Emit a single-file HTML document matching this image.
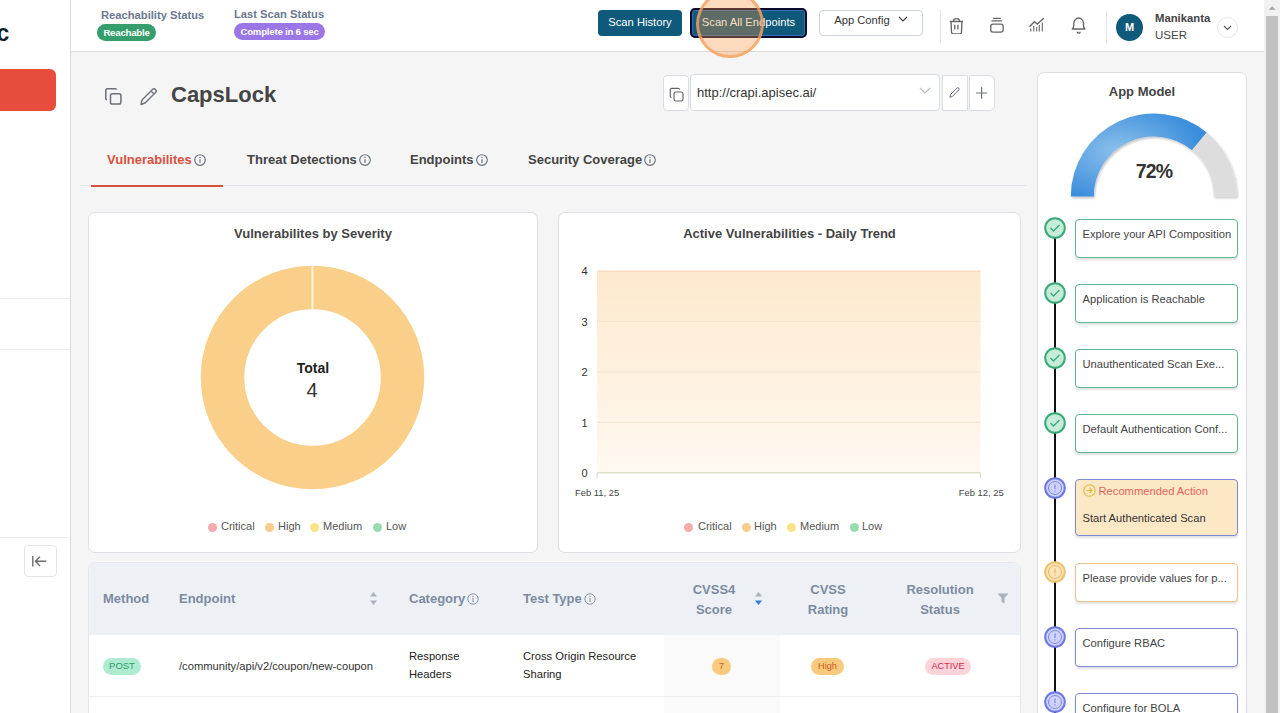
<!DOCTYPE html>
<html><head><meta charset="utf-8">
<style>
*{box-sizing:border-box;margin:0;padding:0}
html,body{width:1280px;height:713px;overflow:hidden;background:#f5f5f5;font-family:"Liberation Sans",Arial,sans-serif;color:#333}
.abs{position:absolute}
#side{position:absolute;left:0;top:0;width:71px;height:713px;background:#fff;border-right:1px solid #d9dadd}
#hdr{position:absolute;left:71px;top:0;width:1193px;height:52px;background:#fff;border-bottom:1px solid #d9dadd}
#sb{position:absolute;left:1264px;top:0;width:16px;height:713px;background:#f1f1f1}
.lbl{font-size:11.2px;font-weight:bold;color:#6b7891;white-space:nowrap}
.badge{position:absolute;border-radius:9px;color:#fff;font-size:9.6px;font-weight:bold;text-align:center;letter-spacing:-0.2px}
.btn{position:absolute;border-radius:4px;font-size:11.2px;text-align:center;white-space:nowrap}
.card{position:absolute;background:#fff;border:1px solid #dcdfe3;border-radius:7px}
.ctitle{position:absolute;left:0;right:0;text-align:center;font-size:13px;font-weight:bold;color:#444}
.tab{position:absolute;font-size:13px;font-weight:bold;color:#444;white-space:nowrap}
.info{display:inline-block;vertical-align:-1.5px;margin-left:2px}
.leg{position:absolute;font-size:11px;color:#555;white-space:nowrap}
.dot{position:absolute;width:9px;height:9px;border-radius:50%}
.step{position:absolute;left:1075px;width:163px;height:39px;background:#fff;border:1.5px solid #5bb892;border-radius:4px;box-shadow:0 2px 2px rgba(0,0,0,0.12);font-size:11.2px;color:#444;padding:7.5px 0 0 6.5px;white-space:nowrap;overflow:hidden}
.circ{position:absolute;left:1044px;width:22px;height:22px;border-radius:50%}
.th{position:absolute;font-size:13px;font-weight:bold;color:#7d8ba0;white-space:nowrap}
.td{position:absolute;font-size:11.2px;color:#222;white-space:nowrap}
</style></head><body>

<!-- sidebar -->
<div id="side">
  <div class="abs" style="left:-3.5px;top:20.2px;font-size:23px;font-weight:bold;color:#0f1e2e">c</div>
  <div class="abs" style="left:-10px;top:69px;width:66px;height:42px;background:#e84c3d;border-radius:6px"></div>
  <div class="abs" style="left:0;top:298px;width:70px;height:1px;background:#eceef0"></div>
  <div class="abs" style="left:0;top:349px;width:70px;height:1px;background:#eceef0"></div>
  <div class="abs" style="left:0;top:537px;width:70px;height:1px;background:#eceef0"></div>
  <div class="abs" style="left:24px;top:545px;width:33px;height:32px;border:1px solid #e3e5e8;border-radius:4px;background:#fff">
    <svg width="31" height="30" viewBox="0 0 31 30" style="position:absolute;left:0;top:0"><path d="M7.8 10v10.5M21.3 15.3H10.6M15 10.7l-4.6 4.6 4.6 4.6" stroke="#6e6e6e" stroke-width="1.4" fill="none"/></svg>
  </div>
</div>

<!-- header -->
<div id="hdr"></div>
<div class="abs lbl" style="left:101px;top:9px">Reachability Status</div>
<div class="badge" style="left:97px;top:24px;width:59px;height:17px;line-height:17px;background:#359e6b">Reachable</div>
<div class="abs lbl" style="left:234px;top:8px">Last Scan Status</div>
<div class="badge" style="left:234px;top:23px;width:91px;height:17px;line-height:17px;background:#9a76e6">Complete in 6 sec</div>

<div class="btn" style="left:598px;top:10px;width:84px;height:26px;line-height:24px;background:#0f5a7a;color:#fff">Scan History</div>
<div class="btn" style="left:690px;top:8px;width:117px;height:30px;line-height:24px;background:#0f5a7a;color:#fff;border:2px solid #0b0b2e;border-radius:5px;box-shadow:inset 0 0 0 1px #3a6cb8">Scan All Endpoints</div>
<div class="btn" style="left:819px;top:10px;width:104px;height:26px;line-height:19px;background:#fff;color:#333;border:1px solid #cdd2d8">App Config <svg width="10" height="7" viewBox="0 0 10 7" style="margin-left:5px;vertical-align:1px"><path d="M1 1l4 4 4-4" stroke="#444" stroke-width="1.2" fill="none"/></svg></div>
<!-- click indicator -->
<div class="abs" style="left:696px;top:-10px;width:68px;height:68px;border-radius:50%;background:rgba(246,146,64,0.34);border:3px solid rgba(245,162,95,0.78)"></div>

<div class="abs" style="left:940px;top:10px;width:1px;height:33px;background:#e2e4e8"></div>
<div class="abs" style="left:1106px;top:10px;width:1px;height:33px;background:#e2e4e8"></div>
<!-- trash -->
<svg class="abs" style="left:948px;top:16px" width="16" height="18" viewBox="0 0 16 18"><path d="M5.4 5.3a3.1 2.7 0 0 1 6.2 0M1.7 5.5h13.3M3.1 5.5l.4 10.6a1.7 1.7 0 0 0 1.7 1.7h6.6a1.7 1.7 0 0 0 1.7-1.7l.4-10.6M6.8 8.8v4.6M9.9 8.8v4.6" stroke="#666" stroke-width="1.35" fill="none"/></svg>
<!-- stack -->
<svg class="abs" style="left:988px;top:16px" width="17" height="18" viewBox="0 0 17 18"><path d="M5.1 2.3h7.7M3.5 4.9h10.4" stroke="#666" stroke-width="1.35" fill="none"/><rect x="2.75" y="8.05" width="12.4" height="8" rx="2.3" stroke="#666" stroke-width="1.35" fill="none"/></svg>
<!-- chart -->
<svg class="abs" style="left:1028px;top:16px" width="17" height="17" viewBox="0 0 17 17"><path d="M1.4 10.7L6.4 5.7L9.3 8.1L15.7 2.2" stroke="#666" stroke-width="1.35" fill="none"/><path d="M2.8 15.4v-2.9M5.8 15.4v-5.3M8.7 15.4v-4.4M11.3 15.4v-6.5M14.3 15.4v-8.8" stroke="#666" stroke-width="1.1" fill="none"/></svg>
<!-- bell -->
<svg class="abs" style="left:1070px;top:15px" width="16" height="19" viewBox="0 0 16 19"><path d="M2.3 14Q3.8 13 3.8 10V8.4A4.85 5.4 0 0 1 13.5 8.4V10Q13.5 13 15 14ZM7.2 16.7a1.5 1.3 0 0 0 3 0" stroke="#666" stroke-width="1.35" fill="none" stroke-linejoin="round"/></svg>

<div class="abs" style="left:1116px;top:14px;width:27px;height:27px;border-radius:50%;background:#0f5a7a;color:#fff;font-size:11px;font-weight:bold;text-align:center;line-height:27px">M</div>
<div class="abs" style="left:1155px;top:12px;font-size:11.3px;font-weight:bold;color:#444">Manikanta</div>
<div class="abs" style="left:1155px;top:29px;font-size:11.5px;color:#444">USER</div>
<div class="abs" style="left:1217px;top:17px;width:21px;height:21px;border-radius:50%;border:1px solid #e2e4e8;background:#fff">
  <svg width="20" height="20" viewBox="0 0 20 20" style="position:absolute;left:0;top:0"><path d="M6 8l3.5 3.5 3.5-3.5" stroke="#555" stroke-width="1.1" fill="none"/></svg>
</div>

<!-- scrollbar -->
<div id="sb">
  <svg width="16" height="15" viewBox="0 0 16 15" style="position:absolute;left:0;top:0"><path d="M4.8 9.8l3.4-3.6 3.4 3.6z" fill="#a3a3a3"/></svg>
  <div class="abs" style="left:2px;top:16px;width:12px;height:697px;background:#c1c1c1"></div>
</div>

<!-- title -->
<svg class="abs" style="left:104px;top:87px" width="19" height="19" viewBox="0 0 19 19"><rect x="6.5" y="6.7" width="10.4" height="10.3" rx="1.8" stroke="#6b7079" stroke-width="1.5" fill="none"/><path d="M12.6 2.7a1.2 1.2 0 0 0-1.2-1h-8a1.6 1.6 0 0 0-1.6 1.6v8.2a1.2 1.2 0 0 0 1.2 1.2" stroke="#6b7079" stroke-width="1.5" fill="none"/></svg>
<svg class="abs" style="left:139px;top:87px" width="19" height="19" viewBox="0 0 19 19"><path d="M2 17.5l1-4.5L13.5 2.5a2 2 0 0 1 3 3L6 16z M12 4l3 3" stroke="#6b7079" stroke-width="1.4" fill="none" stroke-linejoin="round"/></svg>
<div class="abs" style="left:171px;top:81.5px;font-size:22px;font-weight:bold;color:#444">CapsLock</div>

<!-- URL selector -->
<div class="abs" style="left:663px;top:75px;width:26px;height:36px;background:#fff;border:1px solid #d9dde2;border-radius:4px"></div>
<svg class="abs" style="left:668.5px;top:86.5px" width="16" height="16" viewBox="0 0 16 16"><rect x="5" y="5" width="9" height="9" rx="1.8" stroke="#666" stroke-width="1.2" fill="none"/><path d="M10.5 2.5a1.2 1.2 0 0 0-1.2-1.2H3a1.7 1.7 0 0 0-1.7 1.7v6.3a1.2 1.2 0 0 0 1.2 1.2" stroke="#666" stroke-width="1.2" fill="none"/></svg>
<div class="abs" style="left:690px;top:74px;width:250px;height:37px;background:#fff;border:1px solid #d9dde2;border-radius:4px;font-size:13px;color:#333;padding:10px 0 0 6px">http://crapi.apisec.ai/</div>
<svg class="abs" style="left:919px;top:87px" width="12" height="8" viewBox="0 0 12 8"><path d="M1 1l5 5 5-5" stroke="#bbb" stroke-width="1.2" fill="none"/></svg>
<div class="abs" style="left:942px;top:75px;width:26px;height:36px;background:#fff;border:1px solid #d9dde2;border-radius:1px"></div>
<svg class="abs" style="left:948px;top:86px" width="13" height="13" viewBox="0 0 13 13"><path d="M1.8 11.2l.6-2.6L8.9 2.1a1.3 1.3 0 0 1 1.9 1.9L4.3 10.5z" stroke="#6b7280" stroke-width="1" fill="none" stroke-linejoin="round"/></svg>
<div class="abs" style="left:969px;top:75px;width:26px;height:36px;background:#fff;border:1px solid #d9dde2;border-radius:1px 6px 6px 1px"></div>
<svg class="abs" style="left:975px;top:86px" width="14" height="14" viewBox="0 0 14 14"><path d="M6.6 1.2v11.6M1 7h11.2" stroke="#6b7280" stroke-width="1.2" fill="none"/></svg>

<!-- tabs -->
<div class="tab" style="left:107px;top:152px;color:#d9503f">Vulnerabilites<svg class="info" width="12" height="12" viewBox="0 0 12 12"><circle cx="6" cy="6" r="5.3" stroke="#6b7280" stroke-width="1.15" fill="none"/><path d="M6 5.2v3.8" stroke="#6b7280" stroke-width="1.2"/><circle cx="6" cy="3.5" r="0.75" fill="#6b7280"/></svg></div>
<div class="tab" style="left:247px;top:152px">Threat Detections<svg class="info" width="12" height="12" viewBox="0 0 12 12"><circle cx="6" cy="6" r="5.3" stroke="#6b7280" stroke-width="1.15" fill="none"/><path d="M6 5.2v3.8" stroke="#6b7280" stroke-width="1.2"/><circle cx="6" cy="3.5" r="0.75" fill="#6b7280"/></svg></div>
<div class="tab" style="left:410px;top:152px">Endpoints<svg class="info" width="12" height="12" viewBox="0 0 12 12"><circle cx="6" cy="6" r="5.3" stroke="#6b7280" stroke-width="1.15" fill="none"/><path d="M6 5.2v3.8" stroke="#6b7280" stroke-width="1.2"/><circle cx="6" cy="3.5" r="0.75" fill="#6b7280"/></svg></div>
<div class="tab" style="left:528px;top:152px">Security Coverage<svg class="info" width="12" height="12" viewBox="0 0 12 12"><circle cx="6" cy="6" r="5.3" stroke="#6b7280" stroke-width="1.15" fill="none"/><path d="M6 5.2v3.8" stroke="#6b7280" stroke-width="1.2"/><circle cx="6" cy="3.5" r="0.75" fill="#6b7280"/></svg></div>
<div class="abs" style="left:80px;top:185px;width:947px;height:1px;background:#e1e5ea"></div>
<div class="abs" style="left:91px;top:184.5px;width:132px;height:2.5px;background:#d9503f"></div>

<!-- left chart card -->
<div class="card" style="left:88px;top:212px;width:450px;height:341px">
  <div class="ctitle" style="top:13.3px">Vulnerabilites by Severity</div>
</div>
<svg class="abs" style="left:200px;top:265px" width="225" height="225" viewBox="0 0 225 225">
  <circle cx="112.5" cy="112.5" r="90" stroke="#f9cf8a" stroke-width="43.5" fill="none"/>
  <path d="M112.5 0v44" stroke="#fdf4d8" stroke-width="2"/>
</svg>
<div class="abs" style="left:263px;top:359.5px;width:100px;text-align:center;font-size:14px;font-weight:bold;color:#222">Total</div>
<div class="abs" style="left:262px;top:379px;width:100px;text-align:center;font-size:20px;color:#333">4</div>
<div class="dot" style="left:208px;top:523px;background:#f5a9ab"></div><div class="leg" style="left:221px;top:520px">Critical</div>
<div class="dot" style="left:265px;top:523px;background:#f8cc8a"></div><div class="leg" style="left:278px;top:520px">High</div>
<div class="dot" style="left:310px;top:523px;background:#f7e487"></div><div class="leg" style="left:323px;top:520px">Medium</div>
<div class="dot" style="left:373px;top:523px;background:#97dcb0"></div><div class="leg" style="left:386px;top:520px">Low</div>

<!-- right chart card -->
<div class="card" style="left:558px;top:212px;width:463px;height:341px">
  <div class="ctitle" style="top:13.3px">Active Vulnerabilities - Daily Trend</div>
</div>
<svg class="abs" style="left:560px;top:260px" width="450" height="245" viewBox="0 0 450 245">
  <defs><linearGradient id="ag" x1="0" y1="0" x2="0" y2="1"><stop offset="0" stop-color="#fde9cd"/><stop offset="1" stop-color="#fff9f1"/></linearGradient></defs>
  <rect x="37" y="11" width="383.5" height="201.8" fill="url(#ag)"/>
  <path d="M37 61.4h383.5M37 111.9h383.5M37 162.3h383.5" stroke="#f3e3cf" stroke-width="1"/>
  <path d="M37 11.3h383.5" stroke="#f6dcc0" stroke-width="1.5"/>
  <path d="M37 212.8h383.5" stroke="#dfe2c9" stroke-width="1.6"/>
  <path d="M37 213v5.5M420.3 213v5.5" stroke="#d8d8d8" stroke-width="1"/>
  <g font-family="Liberation Sans, Arial, sans-serif" font-size="11" fill="#333" text-anchor="end">
    <text x="27.6" y="15.2">4</text><text x="27.6" y="65.6">3</text><text x="27.6" y="116.1">2</text><text x="27.6" y="166.5">1</text><text x="27.6" y="216.9">0</text>
  </g>
  <g font-family="Liberation Sans, Arial, sans-serif" font-size="9.4" fill="#444">
    <text x="15" y="235.5">Feb 11, 25</text><text x="398.8" y="235.5">Feb 12, 25</text>
  </g>
</svg>
<div class="dot" style="left:684px;top:523px;background:#f5a9ab"></div><div class="leg" style="left:698px;top:520px">Critical</div>
<div class="dot" style="left:742px;top:523px;background:#f8cc8a"></div><div class="leg" style="left:754px;top:520px">High</div>
<div class="dot" style="left:787px;top:523px;background:#f7e487"></div><div class="leg" style="left:800px;top:520px">Medium</div>
<div class="dot" style="left:850px;top:523px;background:#97dcb0"></div><div class="leg" style="left:862px;top:520px">Low</div>

<!-- table -->
<div class="abs" style="left:88px;top:562px;width:933px;height:160px;background:#fff;border:1px solid #e4e7eb;border-radius:8px 8px 0 0;overflow:hidden">
  <div class="abs" style="left:0;top:0;width:933px;height:72px;background:#edf1f6"></div>
  <div class="abs" style="left:575px;top:72px;width:116px;height:100px;background:#fafafa"></div>
  <div class="abs" style="left:0;top:133px;width:933px;height:1px;background:#eceef1"></div>
</div>
<div class="th" style="left:103px;top:591px">Method</div>
<div class="th" style="left:179px;top:591px">Endpoint</div>
<svg class="abs" style="left:369px;top:591px" width="9" height="15" viewBox="0 0 9 15"><path d="M4.5 1L8 5.5H1zM4.5 14L8 9.5H1z" fill="#a9b2bf"/></svg>
<div class="th" style="left:409px;top:591px">Category<svg class="info" width="12" height="12" viewBox="0 0 12 12"><circle cx="6" cy="6" r="5.2" stroke="#8a96a8" stroke-width="1" fill="none"/><path d="M6 5v4" stroke="#8a96a8" stroke-width="1.1"/><circle cx="6" cy="3.4" r="0.7" fill="#8a96a8"/></svg></div>
<div class="th" style="left:523px;top:591px">Test Type<svg class="info" width="12" height="12" viewBox="0 0 12 12"><circle cx="6" cy="6" r="5.2" stroke="#8a96a8" stroke-width="1" fill="none"/><path d="M6 5v4" stroke="#8a96a8" stroke-width="1.1"/><circle cx="6" cy="3.4" r="0.7" fill="#8a96a8"/></svg></div>
<div class="th" style="left:664px;top:580px;width:100px;text-align:center;line-height:20px">CVSS4<br>Score</div>
<svg class="abs" style="left:754px;top:591px" width="9" height="15" viewBox="0 0 9 15"><path d="M4.5 1L8 5.5H1z" fill="#a9b2bf"/><path d="M4.5 14L8 9.5H1z" fill="#2f7de1"/></svg>
<div class="th" style="left:778px;top:580px;width:100px;text-align:center;line-height:20px">CVSS<br>Rating</div>
<div class="th" style="left:890px;top:580px;width:100px;text-align:center;line-height:20px">Resolution<br>Status</div>
<svg class="abs" style="left:997px;top:593px" width="12" height="11" viewBox="0 0 12 11"><path d="M0.5 0.5h11l-4 4.5v5.5l-3-1.5v-4z" fill="#a9b2bf"/></svg>

<div class="abs" style="left:103px;top:658px;width:38px;height:17px;border-radius:9px;background:#aeecd2;color:#2f9a68;font-size:9.5px;text-align:center;line-height:15.5px;letter-spacing:0px">POST</div>
<div class="td" style="left:179px;top:659.5px;color:#333">/community/api/v2/coupon/new-coupon</div>
<div class="td" style="left:409px;top:647px;line-height:18px;white-space:normal;width:100px">Response<br>Headers</div>
<div class="td" style="left:523px;top:647px;line-height:18px;white-space:normal;width:140px">Cross Origin Resource<br>Sharing</div>
<div class="abs" style="left:712px;top:658px;width:19px;height:17px;border-radius:9px;background:#f9c97c;color:#c4622a;font-size:9.2px;text-align:center;line-height:17px">7</div>
<div class="abs" style="left:811px;top:658px;width:33px;height:17px;border-radius:9px;background:#f9c97c;color:#cf5a22;font-size:9.2px;text-align:center;line-height:17px">High</div>
<div class="abs" style="left:925px;top:658px;width:46px;height:17px;border-radius:9px;background:#fbd3d9;color:#d2294f;font-size:9.2px;text-align:center;line-height:17px">ACTIVE</div>

<!-- right panel -->
<div class="card" style="left:1037px;top:72px;width:210px;height:660px;border-radius:7px"></div>
<div class="abs" style="left:1037px;top:84px;width:210px;text-align:center;font-size:13px;font-weight:bold;color:#444">App Model</div>
<svg class="abs" style="left:1037px;top:72px" width="210" height="140" viewBox="0 0 210 140">
  <defs>
    <radialGradient id="bg1" cx="0.35" cy="0.45" r="0.6"><stop offset="0" stop-color="#8cc0ec"/><stop offset="1" stop-color="#3d8fdc"/></radialGradient>
    <filter id="sh" x="-20%" y="-20%" width="140%" height="140%"><feDropShadow dx="1" dy="1.5" stdDeviation="1.2" flood-color="#000" flood-opacity="0.25"/></filter>
  </defs>
  <g filter="url(#sh)">
  <path d="M33.80 124.50 A83 83 0 0 1 169.71 60.55 L155.05 78.27 A60 60 0 0 0 56.80 124.50Z" fill="url(#bg1)"/>
  <path d="M169.71 60.55 A83 83 0 0 1 199.80 124.50 L176.80 124.50 A60 60 0 0 0 155.05 78.27Z" fill="#dddddd"/>
  </g>
</svg>
<div class="abs" style="left:1104px;top:159.9px;width:100px;text-align:center;font-size:19.5px;letter-spacing:-0.8px;font-weight:bold;color:#333">72%</div>
<div class="abs" style="left:1054px;top:230px;width:2px;height:483px;background:#111"></div>
<svg class="abs" style="left:1044px;top:217px" width="22" height="22" viewBox="0 0 22 22"><circle cx="11" cy="11" r="9.8" fill="#c4ecd9" stroke="#3aa978" stroke-width="2"/><path d="M6.5 11l3 3 6-6" stroke="#3aa978" stroke-width="1.3" fill="none"/></svg><div class="step" style="top:219px">Explore your API Composition</div>
<svg class="abs" style="left:1044px;top:282px" width="22" height="22" viewBox="0 0 22 22"><circle cx="11" cy="11" r="9.8" fill="#c4ecd9" stroke="#3aa978" stroke-width="2"/><path d="M6.5 11l3 3 6-6" stroke="#3aa978" stroke-width="1.3" fill="none"/></svg><div class="step" style="top:284px">Application is Reachable</div>
<svg class="abs" style="left:1044px;top:347px" width="22" height="22" viewBox="0 0 22 22"><circle cx="11" cy="11" r="9.8" fill="#c4ecd9" stroke="#3aa978" stroke-width="2"/><path d="M6.5 11l3 3 6-6" stroke="#3aa978" stroke-width="1.3" fill="none"/></svg><div class="step" style="top:349px">Unauthenticated Scan Exe...</div>
<svg class="abs" style="left:1044px;top:412px" width="22" height="22" viewBox="0 0 22 22"><circle cx="11" cy="11" r="9.8" fill="#c4ecd9" stroke="#3aa978" stroke-width="2"/><path d="M6.5 11l3 3 6-6" stroke="#3aa978" stroke-width="1.3" fill="none"/></svg><div class="step" style="top:414px">Default Authentication Conf...</div>
<svg class="abs" style="left:1044px;top:477px" width="22" height="22" viewBox="0 0 22 22"><circle cx="11" cy="11" r="9.8" fill="#cdd2fa" stroke="#6d78e6" stroke-width="2"/><circle cx="11" cy="11" r="6.5" stroke="#7f88e8" stroke-width="1" fill="none"/><path d="M11 7.5v4.5" stroke="#7f88e8" stroke-width="1.2"/><circle cx="11" cy="14" r="0.7" fill="#7f88e8"/></svg><div class="step" style="top:479px;height:57px;background:#fde8c6;border-color:#8088da;padding-top:4px">
<svg width="13" height="13" viewBox="0 0 13 13" style="vertical-align:-2px;margin-right:3px"><circle cx="6.5" cy="6.5" r="5.7" stroke="#e3b93a" stroke-width="1.1" fill="none"/><path d="M3.5 6.5h5.5M6.5 4l2.5 2.5-2.5 2.5" stroke="#e3b93a" stroke-width="1.1" fill="none"/></svg><span style="color:#e0645e">Recommended Action</span>
<div style="margin-top:15px;color:#333">Start Authenticated Scan</div></div>
<svg class="abs" style="left:1044px;top:561px" width="22" height="22" viewBox="0 0 22 22"><circle cx="11" cy="11" r="9.8" fill="#fbe3b5" stroke="#f0c070" stroke-width="2"/><circle cx="11" cy="11" r="6.5" stroke="#e8b864" stroke-width="1" fill="none"/><path d="M11 7.5v4.5" stroke="#e8b864" stroke-width="1.2"/><circle cx="11" cy="14" r="0.7" fill="#e8b864"/></svg><div class="step" style="top:563px;border-color:#ecc58a">Please provide values for p...</div>
<svg class="abs" style="left:1044px;top:626px" width="22" height="22" viewBox="0 0 22 22"><circle cx="11" cy="11" r="9.8" fill="#cdd2fa" stroke="#6d78e6" stroke-width="2"/><circle cx="11" cy="11" r="6.5" stroke="#7f88e8" stroke-width="1" fill="none"/><path d="M11 7.5v4.5" stroke="#7f88e8" stroke-width="1.2"/><circle cx="11" cy="14" r="0.7" fill="#7f88e8"/></svg><div class="step" style="top:628px;border-color:#8088da">Configure RBAC</div>
<svg class="abs" style="left:1044px;top:691px" width="22" height="22" viewBox="0 0 22 22"><circle cx="11" cy="11" r="9.8" fill="#cdd2fa" stroke="#6d78e6" stroke-width="2"/><circle cx="11" cy="11" r="6.5" stroke="#7f88e8" stroke-width="1" fill="none"/><path d="M11 7.5v4.5" stroke="#7f88e8" stroke-width="1.2"/><circle cx="11" cy="14" r="0.7" fill="#7f88e8"/></svg><div class="step" style="top:693px;border-color:#8088da">Configure for BOLA</div>



</body></html>
